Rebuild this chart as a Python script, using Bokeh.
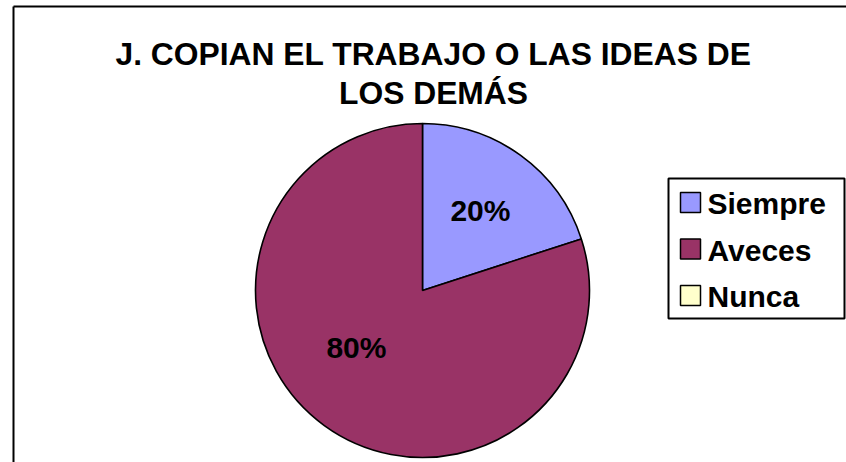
import math
from bokeh.plotting import figure
from bokeh.models import ColumnDataSource, Range1d
from bokeh.core.properties import value
from bokeh.embed import file_html
from bokeh.resources import INLINE

# ---- data ----
title_lines = ["J. COPIAN EL TRABAJO O LAS IDEAS DE", "LOS DEMÁS"]
categories = ["Siempre", "Aveces", "Nunca"]
values = [20, 80, 0]
colors = ["#9999FF", "#993366", "#FFFFCC"]

# ---- layout (pixels of the 846x462 canvas, y up) ----
W, H = 846, 462
FONT = value("Liberation Sans")
cx, cy, R = 422, 172, 167
label_r = [0.59, 0.52]
label_shift = [(0, 0), (-15, 13)]

p = figure(width=W, height=H, output_backend="svg", toolbar_location=None,
           x_range=Range1d(0, W), y_range=Range1d(0, H), min_border=0,
           background_fill_color="white", border_fill_color="white")
p.axis.visible = False
p.grid.visible = False
p.outline_line_color = None

# chart border (left and top visible)
p.segment(x0=[13, 13], y0=[456, 456], x1=[13, W + 20], y1=[-20, 456],
          line_color="black", line_width=2)

# title
p.text(x=[433, 433], y=[409, 370], text=title_lines, text_font=FONT,
       text_font_style="bold", text_font_size="31.8px", text_align="center",
       text_baseline="alphabetic", text_color="black")

# pie
total = sum(values)
starts, ends, mids = [], [], []
a = math.pi / 2
for v in values:
    sweep = v / total * 2 * math.pi
    starts.append(a)
    ends.append(a - sweep)
    mids.append(a - sweep / 2)
    a -= sweep
idx = [i for i, v in enumerate(values) if v > 0]
src = ColumnDataSource(dict(
    x=[cx] * len(idx), y=[cy] * len(idx),
    start=[starts[i] for i in idx], end=[ends[i] for i in idx],
    color=[colors[i] for i in idx]))
p.wedge(x="x", y="y", radius=R, start_angle="start", end_angle="end",
        direction="clock", fill_color="color", line_color="black",
        line_width=1.6, source=src)

# percentage labels
lx, ly, lt = [], [], []
for k, i in enumerate(idx):
    lx.append(cx + label_r[k] * R * math.cos(mids[i]) + label_shift[k][0])
    ly.append(cy + label_r[k] * R * math.sin(mids[i]) + label_shift[k][1])
    lt.append(f"{round(values[i] / total * 100)}%")
p.text(x=lx, y=ly, text=lt, text_font=FONT, text_font_style="bold",
       text_font_size="30px", text_align="center", text_baseline="middle",
       text_color="black")

# legend
p.quad(left=[668], right=[844], top=[284], bottom=[144], fill_color="white",
       line_color="black", line_width=2)
row_y = [260 - 46.5 * i for i in range(len(categories))]
p.rect(x=[690] * len(categories), y=row_y, width=20, height=20,
       fill_color=colors, line_color="black", line_width=1.5)
p.text(x=[707] * len(categories), y=[yy - 1 for yy in row_y], text=categories,
       text_font=FONT, text_font_style="bold", text_font_size="30px",
       text_align="left", text_baseline="middle", text_color="black")

open("out.html", "w").write(file_html(p, INLINE))
